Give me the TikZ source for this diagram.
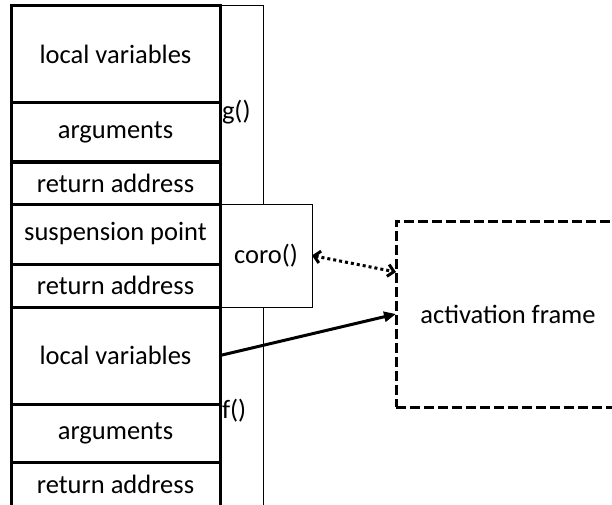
\documentclass[tikz,border=0pt]{standalone}
\usepackage{fontspec}
\setmainfont{Carlito}
\usetikzlibrary{arrows.meta,positioning}

\begin{document}
\begin{tikzpicture}[
  x = 1pt, y = -1pt,
  node distance = 0pt,
  every node/.style = {font=\fontsize{26.5}{30}\selectfont, outer sep=0pt},
  slot/.style = {
    rectangle, draw=black, line width=3pt,
    minimum width=209pt, inner sep=0pt
  },
  framebox/.style = {
    rectangle, draw=black, line width=1pt, inner sep=0pt
  },
  flabel/.style = {anchor=west, inner sep=0pt},
  actbox/.style = {
    rectangle, draw=black, line width=3pt,
    dash pattern=on 10pt off 4pt,
    minimum width=224pt, minimum height=186pt, inner sep=0pt
  },
  arrow/.style  = {-{Triangle[length=12pt,width=10pt]}, line width=3pt},
  darrow/.style = {{Straight Barb[length=6pt,width=12pt]}-{Straight Barb[length=6pt,width=12pt]},
                   line width=3pt, dash pattern=on 3pt off 3pt},
]
\useasboundingbox (0,0) rectangle (612,505);

%% ---- Stack slots ----
\node[slot, minimum height=97pt, anchor=north west] (lv1) at (11,6) {local variables};
\node[slot, minimum height=59pt, below=of lv1]  (arg1) {arguments};
\node[slot, minimum height=42pt, below=of arg1] (ra1)  {return address};
\node[slot, minimum height=60pt, below=of ra1]  (susp) {suspension point};
\node[slot, minimum height=43pt, below=of susp] (ra2)  {return address};
\node[slot, minimum height=97pt, below=of ra2]  (lv2)  {local variables};
\node[slot, minimum height=58pt, below=of lv2]  (arg2) {arguments};
\node[slot, minimum height=45pt, below=of arg2] (ra3)  {return address};

%% ---- Frames ----
\node[framebox, minimum width=43pt, minimum height=198pt, anchor=north west] (gfr) at (lv1.north east) {};
\node[framebox, minimum width=92pt, minimum height=103pt, anchor=north west] (coro) at (ra1.south east) {coro()};
\node[framebox, minimum width=43pt, minimum height=208pt, anchor=north west] (ffr) at (lv2.north east) {};

\node[flabel] (glbl) at ([xshift=2pt, yshift=-7pt]gfr.west) {g()};
\node[flabel] (flbl) at ([xshift=2pt]ffr.west) {f()};

%% ---- Activation frame ----
\node[actbox, anchor=north west] (act) at (396,221) {activation frame};

%% ---- Arrows ----
\draw[darrow] (coro.east) -- ([yshift=42pt]act.west);
\draw[arrow]  (lv2.east)  -- (act.west);

\end{tikzpicture}
\end{document}
